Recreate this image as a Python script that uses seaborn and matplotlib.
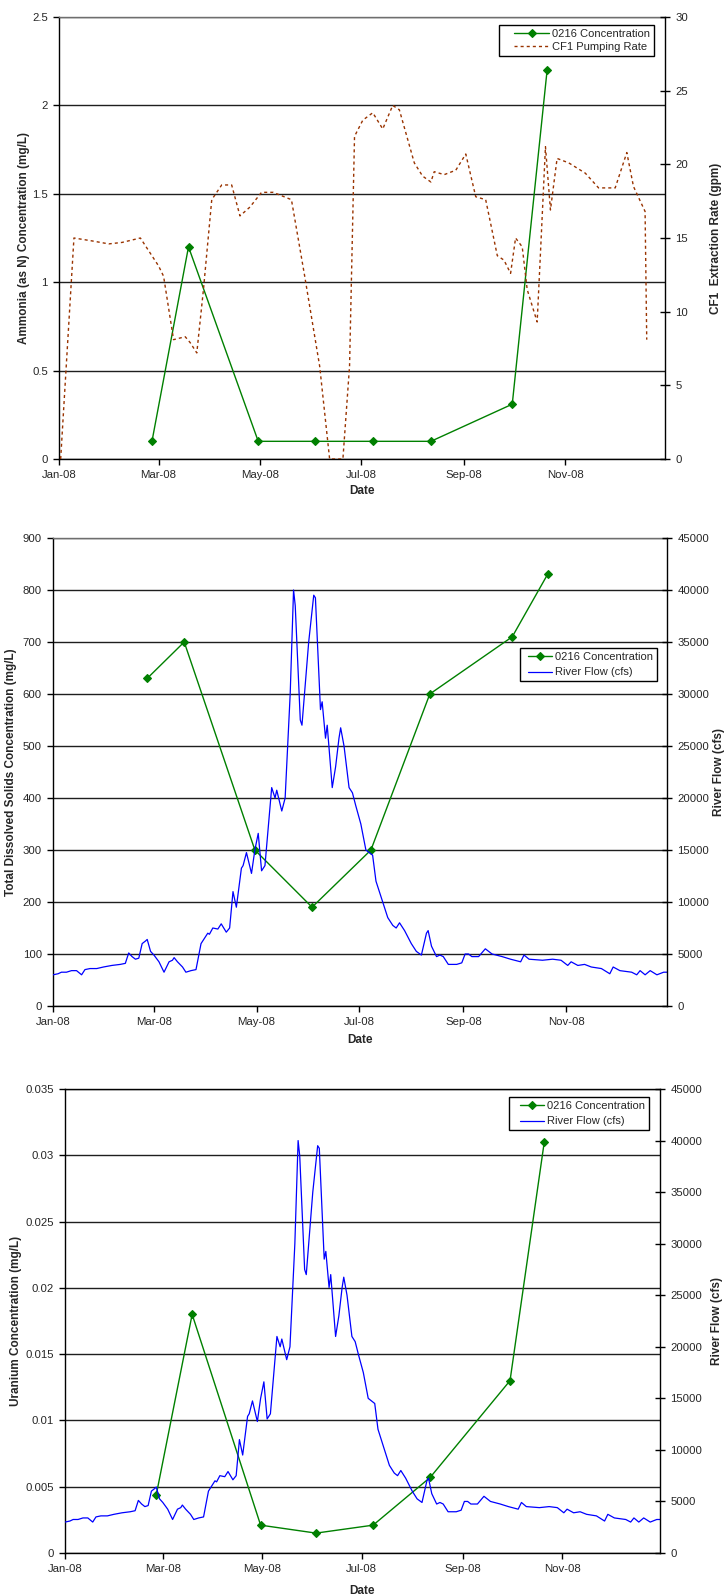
import numpy as np
import pandas as pd
import matplotlib
matplotlib.use('Agg')
import matplotlib.pyplot as plt
import matplotlib.dates as mdates
from matplotlib.ticker import MultipleLocator, FuncFormatter
from matplotlib.lines import Line2D
from matplotlib.legend_handler import HandlerLine2D
import seaborn as sns

# ---------------- data ----------------
sample_dates = ['2008-02-26', '2008-03-19', '2008-04-30', '2008-06-03',
                '2008-07-08', '2008-08-12', '2008-09-30', '2008-10-21']
ammonia = [0.1, 1.2, 0.1, 0.1, 0.1, 0.1, 0.31, 2.2]
tds = [630, 700, 300, 190, 300, 600, 710, 830]
uranium = [0.0044, 0.018, 0.0021, 0.0015, 0.0021, 0.0057, 0.013, 0.031]

# CF1 pumping rate (gpm), day offsets from 2008-01-01
pump_day = [1, 9, 20, 30, 38, 49, 60, 63, 69, 76, 79, 83, 87, 92, 98, 104, 109, 115,
            122, 129, 140, 148, 157, 163, 171, 175, 178, 183, 189, 195, 201, 205, 214,
            219, 224, 226, 232, 239, 245, 251, 257, 264, 268, 272, 275, 279, 282, 288,
            290, 293, 296, 300, 307, 317, 325, 335, 342, 346, 353, 354]
pump_gpm = [0, 15.0, 14.8, 14.6, 14.7, 15.0, 13.1, 12.4, 8.1, 8.3, 7.9, 7.2, 11.5, 17.6,
            18.6, 18.6, 16.5, 17.1, 18.1, 18.1, 17.6, 12.4, 6.3, 0, 0, 6.3, 21.9, 23.0,
            23.5, 22.4, 24.0, 23.7, 20.1, 19.2, 18.8, 19.5, 19.3, 19.6, 20.7, 17.8, 17.6,
            13.8, 13.5, 12.6, 15.0, 14.4, 11.5, 9.3, 14.0, 21.2, 16.9, 20.4, 20.1, 19.4,
            18.4, 18.4, 20.8, 18.5, 16.8, 8.1]

# River flow (cfs), day offsets from 2008-01-01
flow_day = [0, 3, 5, 8, 11, 14, 17, 19, 22, 26, 30, 35, 40, 43, 45, 47, 49, 51, 53, 55,
            56, 58, 60, 63, 66, 69, 71, 72, 74, 77, 79, 82, 85, 88, 92, 93, 95, 98, 100,
            103, 105, 107, 109, 112, 113, 115, 118, 120, 122, 124, 126, 130, 132, 133,
            136, 138, 141, 143, 144, 147, 148, 150, 152, 155, 156, 159, 160, 162, 163,
            166, 168, 170, 171, 173, 176, 178, 180, 183, 186, 190, 192, 195, 199, 202,
            204, 206, 209, 213, 216, 219, 222, 223, 225, 228, 230, 232, 235, 240, 243,
            245, 247, 249, 253, 257, 261, 267, 272, 278, 280, 283, 291, 297, 302, 306,
            308, 312, 316, 320, 326, 331, 333, 337, 344, 347, 349, 352, 355, 359, 363, 365]
flow_cfs = [3000, 3100, 3250, 3250, 3400, 3400, 3000, 3500, 3600, 3600, 3750, 3900, 4000,
            4100, 5100, 4750, 4500, 4600, 6000, 6250, 6400, 5250, 4900, 4250, 3250, 4250,
            4400, 4650, 4250, 3750, 3250, 3400, 3500, 6000, 7000, 6900, 7500, 7400, 7900,
            7100, 7500, 11000, 9500, 13250, 13500, 14750, 12750, 15000, 16600, 13000,
            13500, 21000, 20000, 20750, 18750, 20000, 30000, 40000, 38500, 27500, 27000,
            31000, 35000, 39500, 39250, 28500, 29250, 25750, 27000, 21000, 23000, 25750,
            26750, 25000, 21000, 20500, 19250, 17500, 15000, 14500, 12000, 10500, 8500,
            7750, 7500, 8000, 7250, 6000, 5250, 4900, 7000, 7250, 5750, 4750, 4900, 4750,
            4000, 4000, 4150, 5000, 5000, 4750, 4750, 5500, 5000, 4750, 4500, 4250, 4900,
            4500, 4400, 4500, 4400, 3900, 4250, 3900, 4000, 3750, 3600, 3100, 3750, 3400,
            3250, 3000, 3400, 3000, 3400, 3000, 3250, 3250]

conc_label = '0216 Concentration'
pump_label = 'CF1 Pumping Rate'
flow_label = 'River Flow (cfs)'

# ---------------- style ----------------
sns.set_style('ticks')
plt.rcParams['font.family'] = ['Liberation Sans', 'DejaVu Sans']
plt.rcParams['axes.linewidth'] = 1.0

GREEN = '#008000'
BLUE = '#0000FF'
BROWN = '#993300'
GRID = '#1e1e1e'

base = pd.Timestamp('2008-01-01')
s_dates = pd.to_datetime(sample_dates)
p_dates = base + pd.to_timedelta(pump_day, unit='D')
f_dates = base + pd.to_timedelta(flow_day, unit='D')

W, H = 724, 1596
fig = plt.figure(figsize=(W / 100, H / 100), dpi=100)


def add_axes(l, r, t, b):
    return fig.add_axes([l / W, 1 - b / H, (r - l) / W, (b - t) / H])


fmt = FuncFormatter(lambda v, p: '{:g}'.format(round(v, 6)))


def style_axes(ax, axr, ymax, ystep, rmax, rstep, ylabel, rlabel, lx, rx, ly, dx, topcol):
    ax.set_xlim(pd.Timestamp('2008-01-01'), pd.Timestamp('2008-12-31'))
    ax.xaxis.set_major_locator(mdates.MonthLocator(bymonth=[1, 3, 5, 7, 9, 11]))
    ax.xaxis.set_major_formatter(mdates.DateFormatter('%b-%y'))
    ax.set_ylim(0, ymax)
    ax.yaxis.set_major_locator(MultipleLocator(ystep))
    ax.yaxis.set_major_formatter(fmt)
    axr.set_ylim(0, rmax)
    axr.yaxis.set_major_locator(MultipleLocator(rstep))
    axr.yaxis.set_major_formatter(fmt)
    ax.grid(axis='y', color=GRID, linewidth=1.0)
    ax.grid(axis='x', visible=False)
    ax.set_axisbelow(True)
    ax.tick_params(axis='x', direction='out', length=4, width=1, labelsize=8.2, pad=4, color='k')
    ax.tick_params(axis='y', direction='out', length=4, width=1, labelsize=8.2, pad=4, color='k')
    axr.tick_params(axis='y', direction='inout', length=7, width=1, labelsize=8.2, pad=4, color='k')
    for s in ['top', 'left', 'bottom']:
        axr.spines[s].set_visible(False)
    axr.spines['right'].set_color('k')
    ax.spines['right'].set_visible(False)
    ax.spines['left'].set_color('k')
    ax.spines['bottom'].set_color('k')
    ax.spines['top'].set_color(topcol)
    ax.set_xlabel('Date', fontsize=8.5, fontweight='bold')
    ax.xaxis.label.set_va('center')
    ax.xaxis.set_label_coords(0.5, -dx)
    ax.set_ylabel(ylabel, fontsize=8.5, fontweight='bold')
    ax.yaxis.label.set_va('center')
    ax.yaxis.set_label_coords(lx, ly)
    axr.set_ylabel(rlabel, fontsize=8.5, fontweight='bold', rotation=90)
    axr.yaxis.label.set_va('center')
    axr.yaxis.set_label_coords(rx, ly)


def add_legend(axr, handles, anchor, L, p, ls):
    leg = axr.legend(handles=handles, labels=[h.get_label() for h in handles],
                     loc='upper right', bbox_to_anchor=anchor, borderaxespad=0,
                     fontsize=8, frameon=True, fancybox=False, framealpha=1,
                     edgecolor='k', borderpad=0.35, handlelength=L, handletextpad=0.25,
                     labelspacing=ls, numpoints=1,
                     handler_map={Line2D: HandlerLine2D(xpad=p)})
    leg.get_frame().set_linewidth(1.0)
    return leg


# ---------------- panel 1 ----------------
ax1 = add_axes(59, 665, 17, 459)
ax1r = ax1.twinx()
sns.lineplot(x=s_dates, y=ammonia, ax=ax1, color=GREEN, linewidth=1.0, marker='D',
             markersize=4, markeredgecolor=GREEN, markeredgewidth=0.8,
             errorbar=None, legend=False, label=conc_label)
h_conc1 = ax1.lines[-1]
sns.lineplot(x=p_dates, y=pump_gpm, ax=ax1r, color=BROWN, linewidth=1.0,
             linestyle=(0, (2.2, 2.2)), errorbar=None, legend=False, label=pump_label)
h_pump = ax1r.lines[-1]
style_axes(ax1, ax1r, 2.5, 0.5, 30, 5,
           'Ammonia (as N) Concentration (mg/L)', 'CF1  Extraction Rate (gpm)',
           (24 - 59) / 606, (716 - 59) / 606, 0.5, (491 - 459) / 442, '#6e6e6e')
add_legend(ax1r, [h_conc1, h_pump], (0.982, 0.982), 4.15, 1.0, 0.3)

# ---------------- panel 2 ----------------
ax2 = add_axes(53, 667, 538, 1006)
ax2r = ax2.twinx()
sns.lineplot(x=s_dates, y=tds, ax=ax2, color=GREEN, linewidth=1.0, marker='D',
             markersize=4, markeredgecolor=GREEN, markeredgewidth=0.8,
             errorbar=None, legend=False, label=conc_label)
h_conc2 = ax2.lines[-1]
sns.lineplot(x=f_dates, y=flow_cfs, ax=ax2r, color=BLUE, linewidth=0.9,
             errorbar=None, legend=False, label=flow_label)
h_flow2 = ax2r.lines[-1]
style_axes(ax2, ax2r, 900, 100, 45000, 5000,
           'Total Dissolved Solids Concentration (mg/L)', 'River Flow (cfs)',
           (11.5 - 53) / 614, (719 - 53) / 614, 0.5, (1040 - 1006) / 468, '#6e6e6e')
add_legend(ax2r, [h_conc2, h_flow2], ((657 - 53) / 614, 1 - (648 - 538) / 468), 2.55, 0.4, 0.5)

# ---------------- panel 3 ----------------
ax3 = add_axes(65, 660, 1089, 1553)
ax3r = ax3.twinx()
sns.lineplot(x=s_dates, y=uranium, ax=ax3, color=GREEN, linewidth=1.0, marker='D',
             markersize=4, markeredgecolor=GREEN, markeredgewidth=0.8,
             errorbar=None, legend=False, label=conc_label)
h_conc3 = ax3.lines[-1]
sns.lineplot(x=f_dates, y=flow_cfs, ax=ax3r, color=BLUE, linewidth=0.9,
             errorbar=None, legend=False, label=flow_label)
h_flow3 = ax3r.lines[-1]
style_axes(ax3, ax3r, 0.035, 0.005, 45000, 5000,
           'Uranium Concentration (mg/L)', 'River Flow (cfs)',
           (16 - 65) / 595, (717 - 65) / 595, 0.5, (1591 - 1553) / 464, 'k')
add_legend(ax3r, [h_conc3, h_flow3], ((649 - 65) / 595, 1 - (1097 - 1089) / 464), 2.8, 0.64, 0.5)

fig.savefig('out.png', dpi=100)
